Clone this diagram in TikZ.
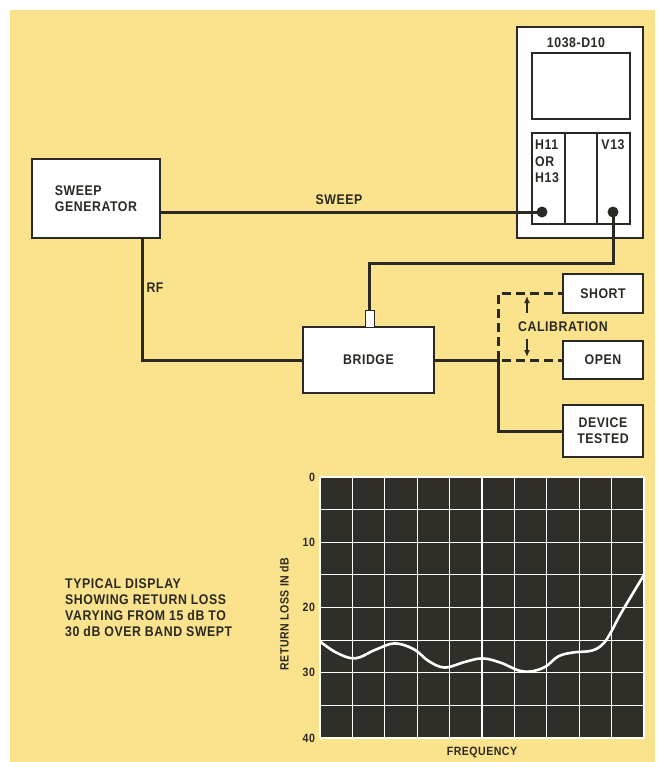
\documentclass[tikz,border=0pt]{standalone}
\usepackage{fontspec}
\setmainfont{Liberation Sans}[FakeStretch=0.88, LetterSpace=4]
\usepackage{tikz}
\usetikzlibrary{arrows.meta}
\definecolor{paper}{HTML}{FBE28C}
\definecolor{ink}{HTML}{2A2923}
\definecolor{crt}{HTML}{302E28}

\begin{document}
\begin{tikzpicture}[
    x=1pt, y=-1pt,
    box/.style={
        draw=ink,
        line width=1.4pt,
        fill=white,
        align=center,
        inner sep=0pt,
        text=ink,
        font=\fontsize{14}{16}\selectfont\bfseries
    },
    lbl/.style={
        inner sep=0pt,
        text=ink,
        font=\fontsize{14}{16}\selectfont\bfseries
    },
    small/.style={
        inner sep=0pt,
        text=ink,
        font=\fontsize{12}{13}\selectfont\bfseries
    },
    dot/.style={circle, fill=ink, inner sep=0pt, minimum size=11pt},
    wire/.style={ink, line width=3pt},
    calib/.style={ink, line width=3pt, dash pattern=on 9pt off 5pt}
]
    \useasboundingbox (0,0) rectangle (660,762);
    \fill[white] (0,0) rectangle (660,762);
    \fill[paper] (10,10) rectangle (655,762);

    % oscilloscope
    \node[box, minimum width=126pt, minimum height=211pt] (scope) at (580,132.5) {};
    \node[lbl] (model) at (576,43) {1038-D10};
    \draw[ink, line width=1.4pt] (532,53) rectangle (630,119);
    \draw[ink, line width=1.4pt] (532,133) rectangle (630,224);
    \draw[ink, line width=1.4pt] (565,133) -- (565,224);
    \draw[ink, line width=1.4pt] (597,133) -- (597,224);
    \node[lbl, anchor=north west, align=left, font=\fontsize{14}{16.5}\selectfont\bfseries] (hplug) at (535,140) {H11\\OR\\H13};
    \node[lbl] (vplug) at (613,145) {V13};

    % blocks
    \node[box, align=left, minimum width=128pt, minimum height=79pt] (gen) at (96,198.5) {SWEEP\\GENERATOR};
    \node[box, minimum width=131pt, minimum height=66pt] (bridge) at (368.5,360) {BRIDGE};
    \node[box, minimum width=9pt, minimum height=17pt, line width=1pt] (stub) at (369.5,318.5) {};
    \node[box, minimum width=80pt, minimum height=39pt] (short) at (603,293.5) {SHORT};
    \node[box, minimum width=80pt, minimum height=38pt] (open) at (603,360) {OPEN};
    \node[box, minimum width=80pt, minimum height=52pt] (dut) at (603,431) {DEVICE\\TESTED};

    \coordinate (jct) at (498,360);
    \coordinate (riser) at (369.5,263);

    % connections
    \draw[wire] (gen.east |- 0,212) -- (542,212);
    \draw[wire] ([xshift=46pt]gen.south) |- (bridge.west);
    \draw[wire] (stub.north) -- (riser) -| (613,212);
    \draw[wire] (bridge.east) -- (jct) |- (dut.west);
    \draw[calib] (jct) |- (short.west);
    \draw[calib] ([xshift=4pt]jct) -- (open.west);
    \node[dot] (hdot) at (542,212) {};
    \node[dot] (vdot) at (613,212) {};
    \node[lbl] (sweep) at (339,200) {SWEEP};
    \node[lbl] (rf) at (155,288) {RF};

    \node[lbl] (cal) at (563,327) {CALIBRATION};
    \draw[ink, line width=1.6pt, -{Latex[length=7pt,width=6pt]}] (527,313) -- (527,296);
    \draw[ink, line width=1.6pt, -{Latex[length=7pt,width=6pt]}] (527,339) -- (527,357);

    % display
    \begin{scope}[shift={(320,477)}, x=32.4pt, y=-6.525pt]
        \fill[crt] (0,0) rectangle (10,40);
        \foreach \i in {0,...,10}
            \draw[white, line width=1.2pt] (\i,0) -- (\i,40);
        \foreach \j in {0,5,...,40}
            \draw[white, line width=1.2pt] (0,\j) -- (10,\j);
        \foreach \j in {0,10,...,40}
            \node[small, anchor=east] (tick\j) at (-0.15,\j) {\j};
        \draw[white, line width=2.6pt] plot[smooth, tension=0.6] coordinates {
            (0,25.2) (0.5,26.9) (1.08,27.8) (1.7,26.5) (2.3,25.5) (2.9,26.4)
            (3.35,28.2) (3.85,29.2) (4.5,28.3) (5.03,27.8) (5.6,28.5)
            (6.1,29.6) (6.5,29.8) (6.95,29.1) (7.35,27.5) (7.8,26.9)
            (8.4,26.6) (8.75,25.5) (9.0,23.6) (9.3,20.8) (10,15)
        };
        \node[small] (freq) at (5,42.2) {FREQUENCY};
        \node[small, rotate=90] (axis) at (-1.1,21) {RETURN LOSS IN dB};
    \end{scope}

    \node[lbl, anchor=north west, align=left, font=\fontsize{14}{15.7}\selectfont\bfseries] (note) at (65,579) {TYPICAL DISPLAY\\SHOWING RETURN LOSS\\VARYING FROM 15 dB TO\\30 dB OVER BAND SWEPT};
\end{tikzpicture}
\end{document}
